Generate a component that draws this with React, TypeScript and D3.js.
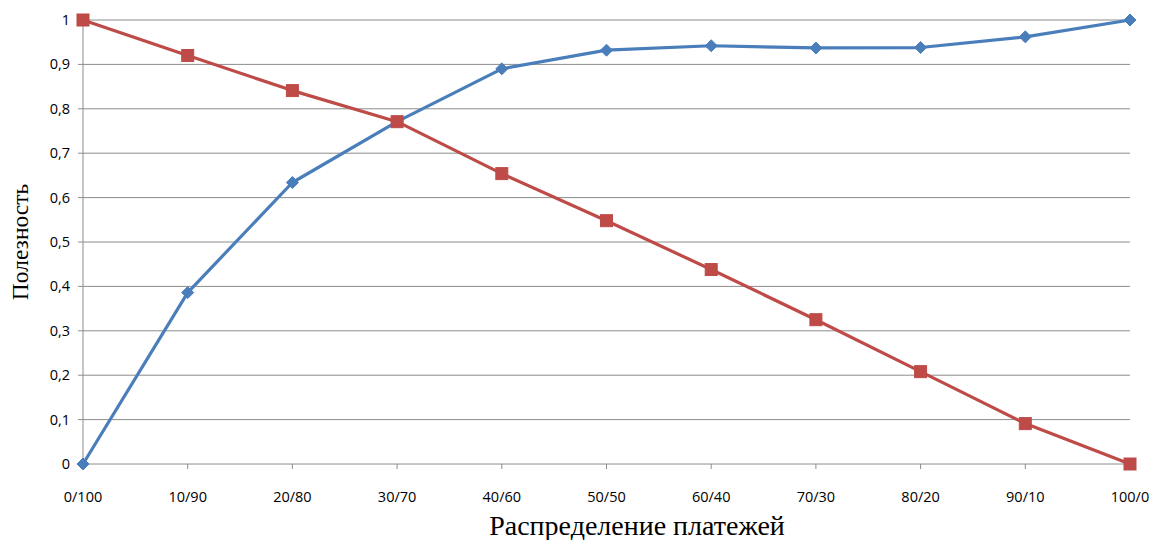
import React from 'react';
import * as d3 from 'd3';

const categories = ['0/100', '10/90', '20/80', '30/70', '40/60', '50/50', '60/40', '70/30', '80/20', '90/10', '100/0'];
const blueValues = [0, 0.386, 0.634, 0.771, 0.89, 0.932, 0.942, 0.937, 0.938, 0.962, 1];
const redValues = [1, 0.92, 0.841, 0.771, 0.654, 0.548, 0.438, 0.325, 0.208, 0.091, 0];
const yTicks = [0, 0.1, 0.2, 0.3, 0.4, 0.5, 0.6, 0.7, 0.8, 0.9, 1];

const width = 1153;
const height = 540;
const margin = { left: 83, right: 23, top: 20, bottom: 76 };

const App: React.FC = () => {
  const x = d3.scalePoint<string>()
    .domain(categories)
    .range([margin.left, width - margin.right]);
  const y = d3.scaleLinear()
    .domain([0, 1])
    .range([height - margin.bottom, margin.top]);

  const line = d3.line<number>()
    .x((_, i) => x(categories[i])!)
    .y(d => y(d));

  const fmt = (v: number) => (v === 0 || v === 1 ? String(v) : v.toFixed(1).replace('.', ','));
  const tickFont = "'Open Sans', 'Noto Sans', sans-serif";

  return (
    <div style={{ position: 'absolute', left: 0, top: 0 }}>
      <svg width={width} height={height} style={{ display: 'block', background: '#fff' }}>
        {/* gridlines */}
        {yTicks.map(t => (
          <line key={'g' + t} x1={margin.left} x2={width - margin.right} y1={y(t)} y2={y(t)}
            stroke="#8c8c8c" strokeWidth={1} />
        ))}
        {/* y axis */}
        <line x1={margin.left} x2={margin.left} y1={y(0)} y2={y(1)} stroke="#8c8c8c" />
        {yTicks.map(t => (
          <g key={'yt' + t}>
            <line x1={margin.left - 5} x2={margin.left} y1={y(t)} y2={y(t)} stroke="#8c8c8c" />
            <text x={margin.left - 13} y={y(t)} dy="0.35em" textAnchor="end"
              fontFamily={tickFont} fontSize={14.5} fill="#000">{fmt(t)}</text>
          </g>
        ))}
        {/* x ticks */}
        {categories.map(c => (
          <g key={'xt' + c}>
            <line x1={x(c)} x2={x(c)} y1={y(0)} y2={y(0) + 5} stroke="#8c8c8c" />
            <text x={x(c)} y={y(0) + 38} textAnchor="middle"
              fontFamily={tickFont} fontSize={14.5} fill="#000">{c}</text>
          </g>
        ))}
        {/* series */}
        <path d={line(blueValues) || ''} fill="none" stroke="#4a7ebb" strokeWidth={3.2} strokeLinejoin="round" />
        <path d={line(redValues) || ''} fill="none" stroke="#be4b48" strokeWidth={3.2} strokeLinejoin="round" />
        {blueValues.map((v, i) => {
          const cx = x(categories[i])!;
          const cy = y(v);
          const r = 6;
          return (
            <path key={'b' + i} d={`M${cx},${cy - r}L${cx + r},${cy}L${cx},${cy + r}L${cx - r},${cy}Z`}
              fill="#4a7ebb" stroke="#4a7ebb" strokeWidth={1} />
          );
        })}
        {redValues.map((v, i) => {
          const cx = x(categories[i])!;
          const cy = y(v);
          const s = 12;
          return (
            <rect key={'r' + i} x={cx - s / 2} y={cy - s / 2} width={s} height={s}
              fill="#be4b48" stroke="#be4b48" strokeWidth={1} />
          );
        })}
        {/* axis titles */}
        <text x={637} y={535} textAnchor="middle"
          fontFamily="'Liberation Serif', 'Times New Roman', serif" fontSize={28} fill="#000">
          Распределение платежей
        </text>
        <text transform={`translate(28,${(y(0) + y(1)) / 2}) rotate(-90)`} textAnchor="middle"
          fontFamily="'Liberation Serif', 'Times New Roman', serif" fontSize={23.5} fill="#000">
          Полезность
        </text>
      </svg>
    </div>
  );
};

export default App;
